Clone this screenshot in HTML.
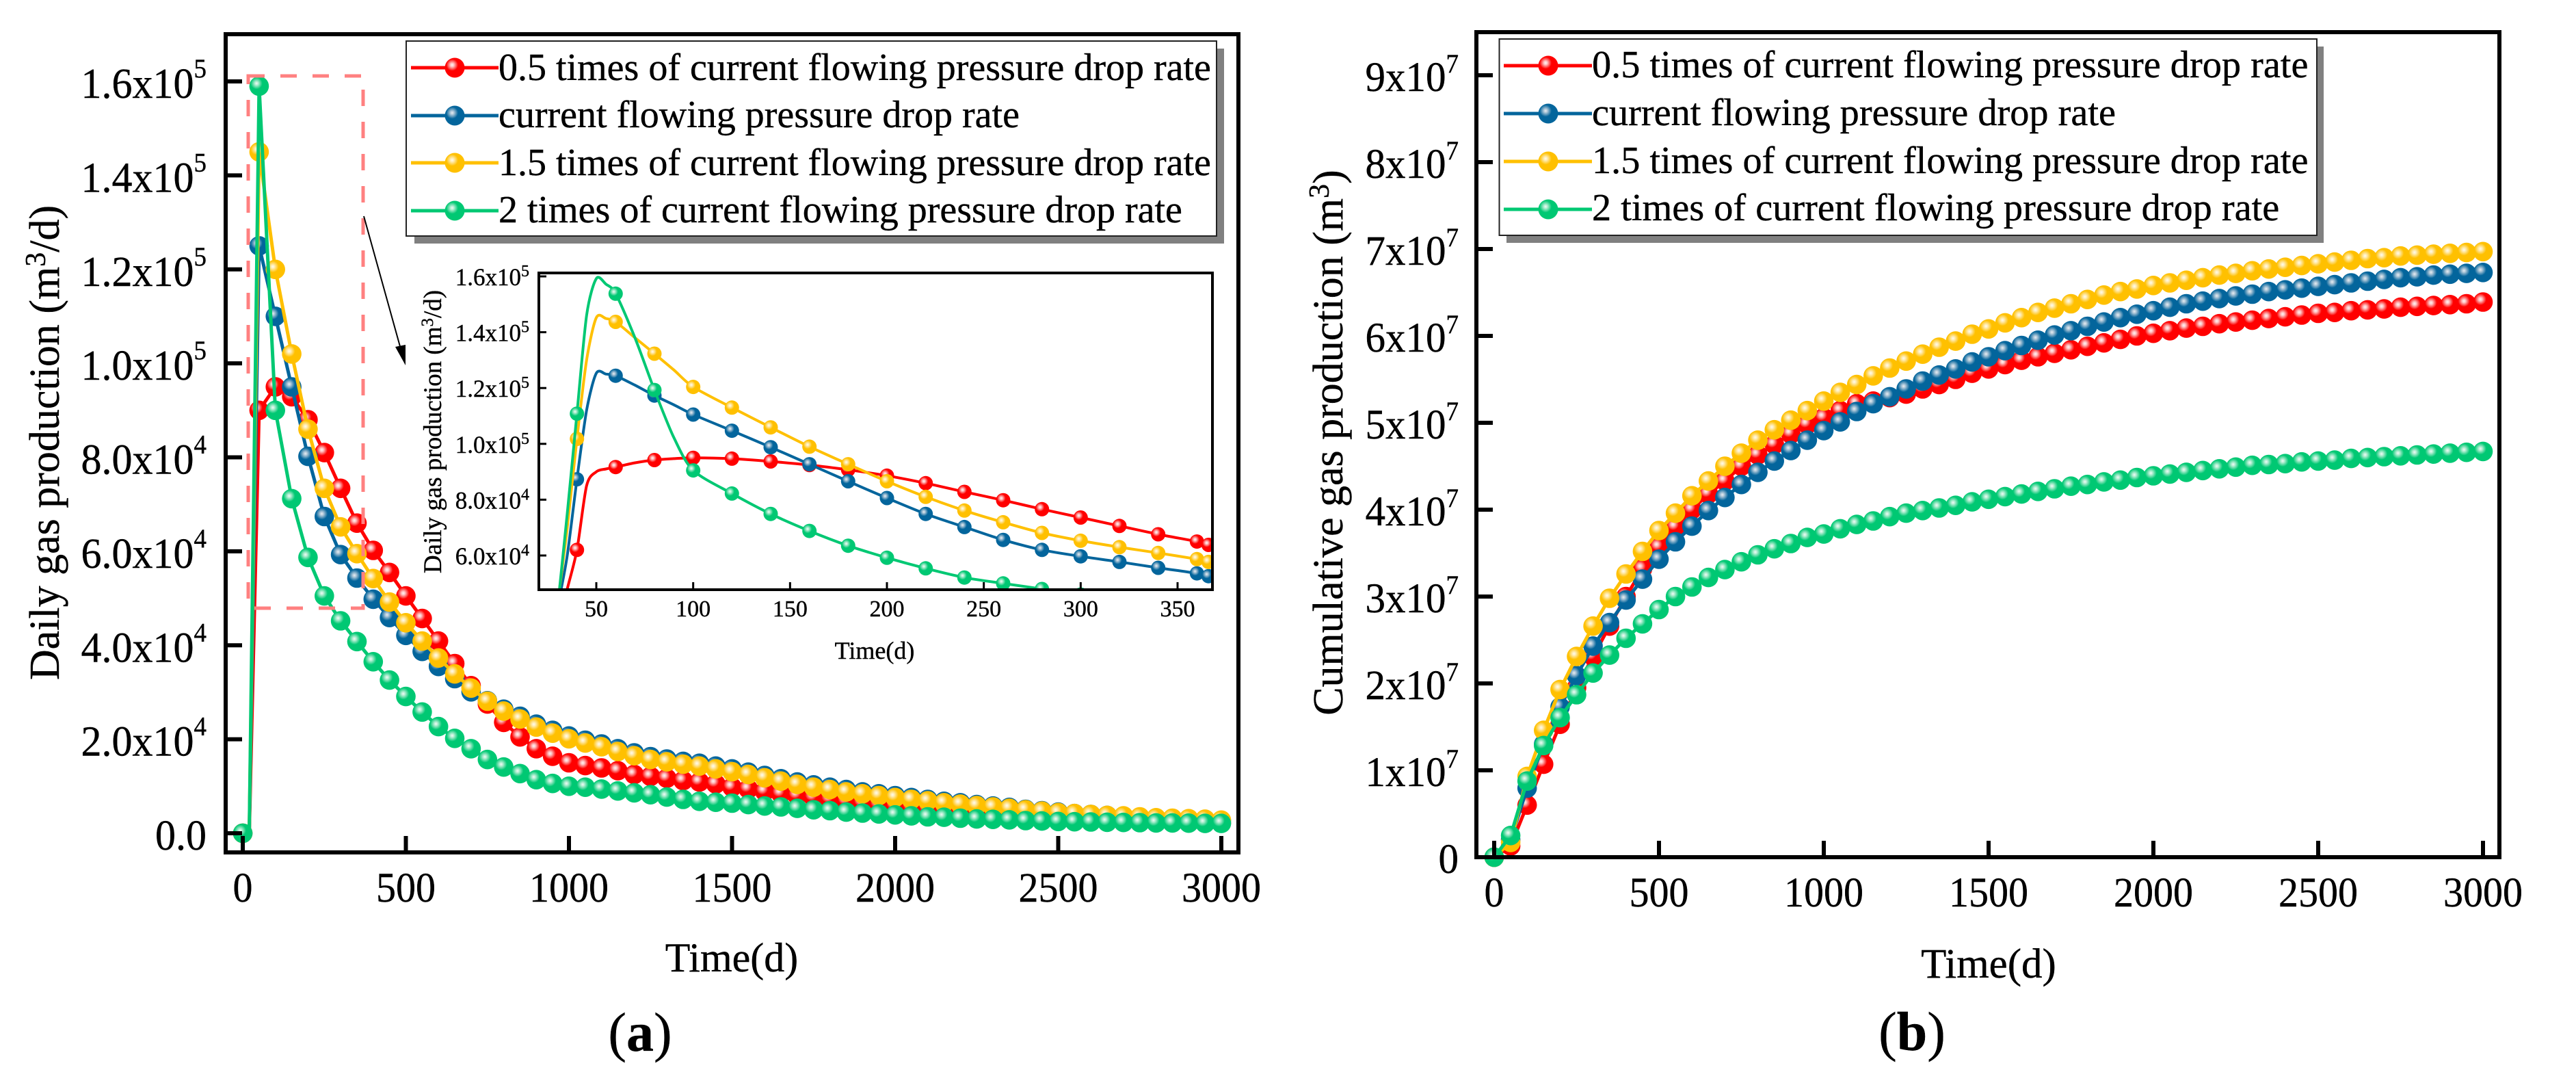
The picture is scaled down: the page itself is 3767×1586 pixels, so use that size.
<!DOCTYPE html>
<html lang="en">
<head>
<meta charset="utf-8">
<title>Daily and cumulative gas production</title>
<style>
html,body{margin:0;padding:0;background:#fff;}
svg{display:block;}
text{font-family:"Liberation Serif","Times New Roman",serif;fill:#000;stroke:#000;stroke-width:0.4px;}
</style>
</head>
<body>
<svg id="figure" xmlns="http://www.w3.org/2000/svg" width="3767" height="1586" viewBox="0 0 3767 1586">
<defs>
<radialGradient id="ball-red" cx="0.37" cy="0.36" r="0.3"><stop offset="0" stop-color="#fff4f4"/><stop offset="0.3" stop-color="#ffc4c4"/><stop offset="1" stop-color="#ff0000"/></radialGradient>
<radialGradient id="ball-blue" cx="0.37" cy="0.36" r="0.3"><stop offset="0" stop-color="#e8eef3"/><stop offset="0.3" stop-color="#b0c8d9"/><stop offset="1" stop-color="#03659c"/></radialGradient>
<radialGradient id="ball-yellow" cx="0.37" cy="0.36" r="0.3"><stop offset="0" stop-color="#fffbee"/><stop offset="0.3" stop-color="#ffecb4"/><stop offset="1" stop-color="#ffc000"/></radialGradient>
<radialGradient id="ball-green" cx="0.37" cy="0.36" r="0.3"><stop offset="0" stop-color="#f0fbf6"/><stop offset="0.3" stop-color="#b4eed3"/><stop offset="1" stop-color="#00c873"/></radialGradient>
<clipPath id="inset-clip"><rect x="790" y="401" width="981" height="459"/></clipPath>
</defs>

<g id="panel-a">
  <g id="a-marks"></g>
  <g id="a-ticks"></g>
  <rect x="330" y="50" width="1481" height="1196" fill="none" stroke="#000" stroke-width="6"/>
  <text transform="translate(86,647) rotate(-90)" text-anchor="middle" font-size="62">Daily gas production (m<tspan dy="-20" font-size="42">3</tspan><tspan dy="20">/d)</tspan></text>
  <text x="1070" y="1420" text-anchor="middle" font-size="60">Time(d)</text>
  <text x="936" y="1536" text-anchor="middle" font-size="80">(<tspan font-weight="bold">a</tspan>)</text>

  <rect x="363" y="111" width="168" height="778" fill="none" stroke="#ff8080" stroke-width="5" stroke-dasharray="24 23"/>
  <line x1="532" y1="316" x2="586" y2="510" stroke="#000" stroke-width="2"/>
  <polygon points="593,534 578,507 593,504" fill="#000"/>

  <g id="legend-a">
    <rect x="606" y="71" width="1184" height="285" fill="#808080"/>
    <rect x="594" y="60" width="1185" height="285" fill="#fff" stroke="#222" stroke-width="2"/>
    <g>
      <line x1="601" y1="99" x2="729" y2="99" stroke="#ff0000" stroke-width="5"/>
      <circle cx="665" cy="99" r="14.5" fill="url(#ball-red)"/>
      <text x="729" y="117" font-size="56">0.5 times of current flowing pressure drop rate</text>
    </g>
    <g>
      <line x1="601" y1="169" x2="729" y2="169" stroke="#03659c" stroke-width="5"/>
      <circle cx="665" cy="169" r="14.5" fill="url(#ball-blue)"/>
      <text x="729" y="186" font-size="56">current flowing pressure drop rate</text>
    </g>
    <g>
      <line x1="601" y1="238" x2="729" y2="238" stroke="#ffc000" stroke-width="5"/>
      <circle cx="665" cy="238" r="14.5" fill="url(#ball-yellow)"/>
      <text x="729" y="256" font-size="56">1.5 times of current flowing pressure drop rate</text>
    </g>
    <g>
      <line x1="601" y1="308" x2="729" y2="308" stroke="#00c873" stroke-width="5"/>
      <circle cx="665" cy="308" r="14.5" fill="url(#ball-green)"/>
      <text x="729" y="325" font-size="56">2 times of current flowing pressure drop rate</text>
    </g>
  </g>

  <g id="inset">
    <rect x="788" y="399" width="985" height="463" fill="#fff"/>
    <g id="i-marks" clip-path="url(#inset-clip)"></g>
    <g id="i-ticks"></g>
    <rect x="788" y="399" width="985" height="463" fill="none" stroke="#000" stroke-width="4"/>
    <text transform="translate(645,631) rotate(-90)" text-anchor="middle" font-size="37">Daily gas production (m<tspan dy="-12" font-size="25">3</tspan><tspan dy="12">/d)</tspan></text>
    <text x="1279" y="963" text-anchor="middle" font-size="36">Time(d)</text>
  </g>
</g>

<g id="panel-b">
  <g id="b-marks"></g>
  <g id="b-ticks"></g>
  <rect x="2159" y="47" width="1496" height="1206" fill="none" stroke="#000" stroke-width="6"/>
  <text transform="translate(1963,647) rotate(-90)" text-anchor="middle" font-size="62">Cumulative gas production (m<tspan dy="-20" font-size="42">3</tspan><tspan dy="20">)</tspan></text>
  <text x="2908" y="1429" text-anchor="middle" font-size="61">Time(d)</text>
  <text x="2796" y="1535" text-anchor="middle" font-size="80">(<tspan font-weight="bold">b</tspan>)</text>

  <g id="legend-b">
    <rect x="2203" y="68" width="1195" height="287" fill="#808080"/>
    <rect x="2192.5" y="57" width="1195.5" height="287" fill="#fff" stroke="#222" stroke-width="2"/>
    <g>
      <line x1="2199" y1="96" x2="2328" y2="96" stroke="#ff0000" stroke-width="5"/>
      <circle cx="2264" cy="96" r="14.5" fill="url(#ball-red)"/>
      <text x="2328" y="113" font-size="56.3">0.5 times of current flowing pressure drop rate</text>
    </g>
    <g>
      <line x1="2199" y1="166" x2="2328" y2="166" stroke="#03659c" stroke-width="5"/>
      <circle cx="2264" cy="166" r="14.5" fill="url(#ball-blue)"/>
      <text x="2328" y="183" font-size="56.3">current flowing pressure drop rate</text>
    </g>
    <g>
      <line x1="2199" y1="236" x2="2328" y2="236" stroke="#ffc000" stroke-width="5"/>
      <circle cx="2264" cy="236" r="14.5" fill="url(#ball-yellow)"/>
      <text x="2328" y="253" font-size="56.3">1.5 times of current flowing pressure drop rate</text>
    </g>
    <g>
      <line x1="2199" y1="306" x2="2328" y2="306" stroke="#00c873" stroke-width="5"/>
      <circle cx="2264" cy="306" r="14.5" fill="url(#ball-green)"/>
      <text x="2328" y="322" font-size="56.3">2 times of current flowing pressure drop rate</text>
    </g>
  </g>
</g>
</svg>

<script>
// Shared sampling: one marker every 50 days, 0 to 3000.
const sampleStep = 50;
const seriesKeys = ['red', 'blue', 'yellow', 'green'];
const seriesColors = ['#ff0000', '#03659c', '#ffc000', '#00c873'];

// Panel (a): daily gas production, thousand m3/d.
const dailyRed = [0,90,95,92.9,88,81,73.4,66,60.2,55.5,50.5,45.7,40.9,36.1,31.4,27.5,23.6,20.5,18,16.4,15,14.4,13.9,13.3,12.5,12.1,11.7,11.2,10.9,10.5,9.8,9.4,8.9,8.4,8,7.6,7.2,6.8,6.4,6,5.7,5.4,5.1,4.8,4.5,4.2,4,3.8,3.6,3.4,3.2,3.05,2.9,2.75,2.6,2.5,2.4,2.3,2.25,2.2,2.15];
const dailyBlue = [0,125,110,95,80.2,67.4,59.3,54.3,49.8,45.9,42.1,38.7,35.5,32.9,30.1,28.2,26.4,24.9,23.2,21.9,20.7,19.8,19,18,17.1,16.3,15.8,15.3,14.9,14.3,13.7,13,12.3,11.6,10.9,10.3,9.8,9.3,8.8,8.4,8,7.6,7.2,6.8,6.5,6.1,5.8,5.5,5.1,4.8,4.5,4.2,4,3.8,3.6,3.4,3.2,3.1,3,2.9,2.7];
const dailyYellow = [0,145,120,102,86,73.4,65.2,59.5,54.2,49.2,44.8,40.9,37.3,33.9,30.9,28.1,26,24.3,22.6,21.3,20.1,19.2,18.4,17.4,16.5,15.7,15.2,14.7,14.3,13.7,13.1,12.5,11.8,11.1,10.4,9.8,9.3,8.8,8.4,8,7.6,7.2,6.9,6.5,6.2,5.9,5.6,5.3,5,4.7,4.4,4.2,4,3.8,3.7,3.5,3.3,3.2,3.1,3,2.8];
const dailyGreen = [0,159,90,71.2,58.7,50.5,45.2,40.8,36.5,32.6,29.1,25.8,22.7,20.2,18,15.7,14.1,12.7,11.4,10.6,10,9.8,9.4,9,8.6,8.2,7.7,7.2,6.8,6.6,6.4,6.1,5.8,5.6,5.3,5,4.8,4.5,4.3,4.1,3.9,3.7,3.5,3.4,3.2,3.05,2.95,2.85,2.7,2.6,2.5,2.45,2.4,2.35,2.3,2.25,2.2,2.2,2.15,2.1,2.1];
const dailyOnsetDay = 20;
const dailyXTicks = [0,500,1000,1500,2000,2500,3000];
const dailyYTicks = [0,20000,40000,60000,80000,100000,120000,140000,160000];
const dailyYTickText = ['0.0','2.0x10','4.0x10','6.0x10','8.0x10','1.0x10','1.2x10','1.4x10','1.6x10'];
const dailyYTickExp = ['','4','4','4','4','5','5','5','5'];

// Inset of panel (a): first year, ten thousand m3/d.
const insetDays = [31,35,40,45,50,55,60,70,80,90,100,120,140,160,180,200,220,240,260,280,300,320,340,360,366];
const insetMarkerDays = [40,60,80,100,120,140,160,180,200,220,240,260,280,300,320,340,360,366];
const insetRed = [3.6,4.8,6.2,8.5,9.0,9.1,9.17,9.32,9.42,9.47,9.5,9.47,9.37,9.24,9.07,8.86,8.59,8.28,7.98,7.66,7.36,7.06,6.76,6.5,6.38];
const insetBlue = [4.5,6.0,8.73,11.2,12.53,12.5,12.44,12.1,11.73,11.4,11.05,10.47,9.88,9.27,8.66,8.06,7.49,7.02,6.56,6.2,5.97,5.77,5.56,5.36,5.26];
const insetYellow = [4.8,7.0,10.18,13.0,14.52,14.49,14.37,13.8,13.23,12.65,12.04,11.3,10.59,9.9,9.27,8.66,8.1,7.61,7.19,6.81,6.53,6.3,6.09,5.87,5.77];
const insetGreen = [4.8,7.5,11.08,14.6,15.92,15.72,15.38,13.79,11.93,10.23,9.05,8.22,7.49,6.88,6.35,5.92,5.54,5.21,5.0,4.8,4.6,4.42,4.28,4.15,4.1];
const insetXTicks = [50,100,150,200,250,300,350];
const insetYTicks = [60000,80000,100000,120000,140000,160000];
const insetYTickText = ['6.0x10','8.0x10','1.0x10','1.2x10','1.4x10','1.6x10'];
const insetYTickExp = ['4','4','5','5','5','5'];

// Panel (b): cumulative gas production, 1e7 m3.
const cumRed = [0,.13,.6,1.07,1.53,1.95,2.31,2.66,3.0,3.32,3.57,3.8,4.0,4.18,4.33,4.5,4.63,4.75,4.87,4.98,5.06,5.14,5.22,5.25,5.29,5.33,5.39,5.44,5.5,5.57,5.62,5.67,5.72,5.76,5.80,5.84,5.88,5.92,5.96,6.00,6.03,6.06,6.09,6.11,6.14,6.16,6.18,6.20,6.22,6.24,6.26,6.27,6.29,6.30,6.31,6.33,6.34,6.35,6.36,6.37,6.39];
const cumBlue = [0,.2,.795,1.3,1.73,2.09,2.43,2.70,2.96,3.2,3.43,3.63,3.81,3.99,4.14,4.29,4.43,4.56,4.68,4.80,4.91,5.01,5.13,5.22,5.30,5.39,5.48,5.55,5.62,5.70,5.76,5.83,5.89,5.95,6.01,6.06,6.11,6.16,6.21,6.25,6.29,6.33,6.37,6.40,6.43,6.46,6.48,6.51,6.53,6.55,6.57,6.59,6.61,6.63,6.65,6.67,6.68,6.70,6.71,6.72,6.73];
const cumYellow = [0,.17,.93,1.46,1.93,2.31,2.66,2.98,3.26,3.52,3.76,3.96,4.16,4.33,4.5,4.65,4.8,4.92,5.03,5.14,5.25,5.35,5.44,5.54,5.63,5.71,5.79,5.87,5.94,6.02,6.08,6.15,6.21,6.27,6.32,6.37,6.42,6.47,6.51,6.54,6.58,6.61,6.64,6.67,6.70,6.72,6.75,6.77,6.79,6.81,6.83,6.85,6.87,6.89,6.90,6.92,6.93,6.94,6.95,6.96,6.97];
const cumGreen = [0,.25,.876,1.285,1.606,1.87,2.12,2.326,2.52,2.686,2.85,3.0,3.11,3.22,3.31,3.40,3.48,3.55,3.61,3.68,3.72,3.78,3.83,3.87,3.92,3.96,3.99,4.02,4.05,4.09,4.12,4.15,4.18,4.21,4.24,4.27,4.29,4.32,4.34,4.37,4.39,4.41,4.43,4.45,4.47,4.49,4.51,4.52,4.53,4.55,4.56,4.57,4.59,4.60,4.61,4.62,4.63,4.64,4.65,4.66,4.67];
const cumXTicks = [0,500,1000,1500,2000,2500,3000];
const cumYTicks = [0,1,2,3,4,5,6,7,8,9];
const cumYTickText = ['0','1x10','2x10','3x10','4x10','5x10','6x10','7x10','8x10','9x10'];
const cumYTickExp = ['','7','7','7','7','7','7','7','7','7'];

const NS = 'http://www.w3.org/2000/svg';
function linear(d0, d1, r0, r1) { return function (v) { return r0 + (v - d0) * (r1 - r0) / (d1 - d0); }; }
const xA = linear(0, 3000, 355, 1786);
const yA = linear(0, 160000, 1218, 119);
const xI = linear(50, 350, 872, 1722);
const yI = linear(60000, 160000, 812, 404);
const xB = linear(0, 3000, 2185, 3631);
const yB = linear(0, 9, 1253, 110);

function make(tag, parent, props) {
  const node = document.createElementNS(NS, tag);
  for (const k in props) node.setAttribute(k, props[k]);
  parent.appendChild(node);
  return node;
}
function polyline(pts) {
  return pts.map(function (p, i) { return (i ? 'L' : 'M') + p[0].toFixed(1) + ' ' + p[1].toFixed(1); }).join('');
}
function smooth(pts) {
  let d = 'M' + pts[0][0].toFixed(1) + ' ' + pts[0][1].toFixed(1);
  for (let i = 0; i < pts.length - 1; i++) {
    const p0 = pts[Math.max(0, i - 1)], p1 = pts[i], p2 = pts[i + 1], p3 = pts[Math.min(pts.length - 1, i + 2)];
    const k = 0.14;
    d += 'C' + (p1[0] + (p2[0] - p0[0]) * k).toFixed(1) + ' ' + (p1[1] + (p2[1] - p0[1]) * k).toFixed(1) + ' ' +
         (p2[0] - (p3[0] - p1[0]) * k).toFixed(1) + ' ' + (p2[1] - (p3[1] - p1[1]) * k).toFixed(1) + ' ' +
         p2[0].toFixed(1) + ' ' + p2[1].toFixed(1);
  }
  return d;
}

function drawSeries(parentId, prefix, linePts, markerPts, idx, radius, width, useSmooth) {
  const parent = document.getElementById(parentId);
  const g = make('g', parent, {});
  
  
  const line = make('path', g, { d: useSmooth ? smooth(linePts) : polyline(linePts), fill: 'none', stroke: seriesColors[idx], 'stroke-width': width, 'stroke-linejoin': 'round' });
  
  
  markerPts.forEach(function (p) {
    const dot = make('circle', g, { cx: p[0].toFixed(1), cy: p[1].toFixed(1), r: radius, fill: 'url(#ball-' + seriesKeys[idx] + ')' });
    
    
  });
}

function drawXTicks(parentId, prefix, ticks, sx, axisY, len, w, size, baseline, stretch) {
  const parent = document.getElementById(parentId);
  ticks.forEach(function (t) {
    const x = sx(t);
    const tick = make('line', parent, { x1: x, x2: x, y1: axisY, y2: axisY - len, stroke: '#000', 'stroke-width': w });
    
    
    const label = make('text', parent, { transform: 'translate(' + x + ',' + baseline + ') scale(1,' + stretch + ')', 'text-anchor': 'middle', 'font-size': size });
    
    
    label.textContent = String(t);
  });
}
function drawYTicks(parentId, prefix, ticks, texts, exps, sy, axisX, len, w, opts) {
  const parent = document.getElementById(parentId);
  ticks.forEach(function (t, i) {
    const y = sy(t);
    const tick = make('line', parent, { x1: axisX, x2: axisX + len, y1: y, y2: y, stroke: '#000', 'stroke-width': w });
    
    
    const label = make('text', parent, { transform: 'translate(' + opts.right + ',' + (y + opts.drop) + ') scale(1,' + opts.stretch + ')', 'text-anchor': 'end', 'font-size': opts.size });
    
    
    label.appendChild(document.createTextNode(texts[i]));
    if (exps[i]) {
      const sup = make('tspan', label, { dy: -opts.lift / opts.stretch, 'font-size': opts.supSize });
      sup.textContent = exps[i];
    }
  });
}

const dailySets = [dailyRed, dailyBlue, dailyYellow, dailyGreen];
const insetSets = [insetRed, insetBlue, insetYellow, insetGreen];
const cumSets = [cumRed, cumBlue, cumYellow, cumGreen];

dailySets.forEach(function (vals, idx) {
  const markers = vals.map(function (v, i) { return [xA(i * sampleStep), yA(v * 1000)]; });
  const line = [markers[0], [xA(dailyOnsetDay), yA(0)]].concat(markers.slice(1));
  drawSeries('a-marks', 'daily', line, markers, idx, 14.3, 5, false);
});
insetSets.forEach(function (vals, idx) {
  const line = vals.map(function (v, i) { return [xI(insetDays[i]), yI(v * 10000)]; });
  const markers = line.filter(function (p, i) { return insetMarkerDays.indexOf(insetDays[i]) >= 0; });
  drawSeries('i-marks', 'inset', line, markers, idx, 10.5, 4, true);
});
cumSets.forEach(function (vals, idx) {
  const markers = vals.map(function (v, i) { return [xB(i * sampleStep), yB(v)]; });
  drawSeries('b-marks', 'cumulative', markers, markers, idx, 14.3, 5, false);
});

drawXTicks('a-ticks', 'daily', dailyXTicks, xA, 1246, 24, 6, 58, 1318, 1.05);
drawYTicks('a-ticks', 'daily', dailyYTicks, dailyYTickText, dailyYTickExp, yA, 330, 24, 6, { right: 302, drop: 24, size: 60, supSize: 37, lift: 30, stretch: 1.05 });
drawXTicks('i-ticks', 'inset', insetXTicks, xI, 862, 11, 3, 34, 901, 1);
drawYTicks('i-ticks', 'inset', insetYTicks, insetYTickText, insetYTickExp, yI, 788, 11, 3, { right: 774, drop: 13, size: 35, supSize: 24, lift: 13, stretch: 1.03 });
drawXTicks('b-ticks', 'cumulative', cumXTicks, xB, 1253, 24, 6, 58, 1325, 1.05);
drawYTicks('b-ticks', 'cumulative', cumYTicks, cumYTickText, cumYTickExp, yB, 2159, 24, 6, { right: 2133, drop: 23, size: 59, supSize: 37, lift: 27, stretch: 1.05 });
</script>
</body>
</html>
